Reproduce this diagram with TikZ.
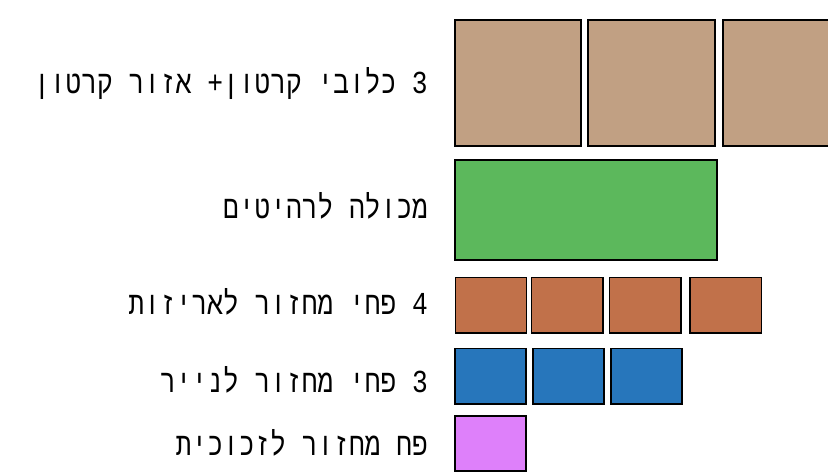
\documentclass[tikz,border=0pt]{standalone}
\usepackage{fontspec}
\TeXXeTstate=1
\newfontfamily\hebfont[Script=Hebrew,FakeStretch=0.82]{Liberation Mono}
\definecolor{cbrown}{HTML}{C1A083}
\definecolor{cgreen}{HTML}{5CB85C}
\definecolor{corange}{HTML}{C1714A}
\definecolor{cblue}{HTML}{2776BB}
\definecolor{cpink}{HTML}{DE80FA}
\tikzset{
  bin/.style={draw=black, line width=1.6bp, inner sep=0pt, rectangle},
  lbl/.style={anchor=east, inner sep=0pt, font=\hebfont\fontsize{32bp}{36bp}\selectfont}
}
\newcommand{\binbox}[6]{% name, x1,y1,x2,y2, color
  \node[bin, fill=#6, minimum width={(#4-#2)*1bp}, minimum height={(#5-#3)*1bp}] (#1) at ({(#2+#4)/2},{(#3+#5)/2}) {};}
\begin{document}
\begin{tikzpicture}[x=1bp,y=-1bp]
\useasboundingbox (0,0) rectangle (828,474);
\clip (0,0) rectangle (828,474);
% cardboard
\binbox{c1}{455}{20}{581}{146}{cbrown}
\binbox{c2}{588}{20}{715}{146}{cbrown}
\binbox{c3}{723}{20}{860}{146}{cbrown}
% shelf
\binbox{g1}{455}{160}{717}{260}{cgreen}
% packaging
\binbox{o1}{455.5}{277.5}{526.5}{333}{corange}
\binbox{o2}{531.5}{277.5}{603}{333}{corange}
\binbox{o3}{609.5}{277.5}{681}{333}{corange}
\binbox{o4}{690}{277.5}{761.5}{333}{corange}
% paper
\binbox{b1}{455}{348.5}{526}{404}{cblue}
\binbox{b2}{533}{348.5}{604}{404}{cblue}
\binbox{b3}{611}{348.5}{682}{404}{cblue}
% glass
\binbox{p1}{455}{416}{526}{471}{cpink}
% labels
\node[lbl] (l1) at (428,84) {\beginR 3 כלובי קרטון+ אזור קרטון\endR};
\node[lbl] (l2) at (428,206) {\beginR מכולה לרהיטים\endR};
\node[lbl] (l3) at (428,302) {\beginR 4 פחי מחזור לאריזות\endR};
\node[lbl] (l4) at (428,380) {\beginR 3 פחי מחזור לנייר\endR};
\node[lbl] (l5) at (428,443) {\beginR פח מחזור לזכוכית\endR};
\end{tikzpicture}
\end{document}
